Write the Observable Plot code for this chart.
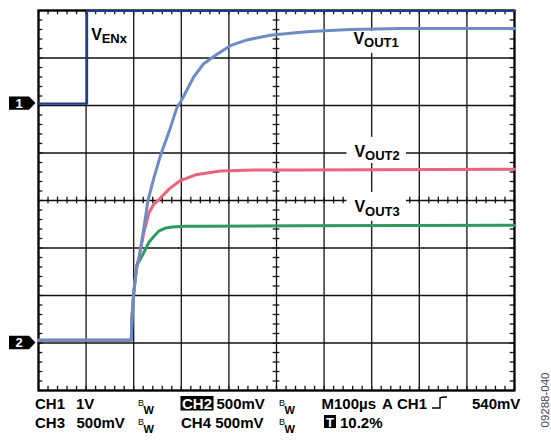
<!DOCTYPE html>
<html><head><meta charset="utf-8">
<script src="https://cdn.jsdelivr.net/npm/d3@7"></script>
<script src="https://cdn.jsdelivr.net/npm/@observablehq/plot@0.6"></script>
<style>
html,body{margin:0;padding:0;background:#fff;}
#chart{width:551px;height:442px;}
</style></head><body><div id="chart"></div>
<script>
// ---- scope settings (read from the on-screen readout) ----
const timePerDiv = 100;      // µs  (M100µs)
const triggerPct = 10.2;     // %   (T 10.2%)
const ch1VoltsPerDiv = 1;    // CH1 1V
const ch2VoltsPerDiv = 0.5;  // CH2/3/4 500mV
const ch1Ground = 2.04;      // divisions (marker "1")
const ch2Ground = -3;        // divisions (marker "2")
const channelMarkers = ["1", "2"];
const channelGrounds = [ch1Ground, ch2Ground];

// ---- traces: time (µs from trigger) and volts ----
const tEN = [-102, 0, 0, 898];
const vEN = [0, 0, 1.95, 1.95];

const tOut1 = [-102, 93, 94, 98, 102, 105, 109, 119, 128, 140, 154, 172, 189, 198, 224, 245, 273, 301, 336, 385, 427, 469, 553, 658, 898];
const vOut1 = [0.03, 0.03, 0.24, 0.52, 0.71, 0.82, 0.89, 1.20, 1.50, 1.73, 1.97, 2.22, 2.48, 2.55, 2.80, 2.94, 3.04, 3.13, 3.19, 3.24, 3.26, 3.28, 3.30, 3.31, 3.31];

const tOut2 = [-102, 93, 94, 98, 102, 105, 109, 119, 130, 140, 151, 172, 196, 228, 280, 350, 448, 898];
const vOut2 = [0.03, 0.03, 0.24, 0.52, 0.71, 0.82, 0.89, 1.16, 1.37, 1.46, 1.51, 1.62, 1.71, 1.77, 1.81, 1.82, 1.82, 1.83];

const tOut3 = [-102, 93, 94, 98, 102, 105, 116, 130, 140, 151, 165, 179, 207, 238, 448, 898];
const vOut3 = [0.03, 0.03, 0.24, 0.52, 0.71, 0.82, 0.92, 1.06, 1.12, 1.18, 1.21, 1.22, 1.23, 1.23, 1.235, 1.24];

// ---- labels ----
const traceLabels = ["V", "V", "V", "V"];
const traceSubs = ["ENx", "OUT1", "OUT2", "OUT3"];
const readout1 = ["CH1", "1V", "CH2", "500mV", "M100µs", "A", "CH1", "540mV"];
const readout2 = ["CH3", "500mV", "CH4 500mV", "T", "10.2%"];
const bwText = ["B", "W"];
const figureId = "09288-040";

const colors = {en: "#1f3c88", out1: "#6d8bc4", out2: "#e9647d", out3: "#2f9a5e"};
const FONT = "'Liberation Sans', Arial, Helvetica, sans-serif";

// ---- derived scale domain ----
const xMin = -triggerPct / 100 * 10 * timePerDiv;
const xMax = xMin + 10 * timePerDiv;
const xMid = xMin + 5 * timePerDiv;

const toRows = (t, v, ground, vpd) => t.map((ti, i) => ({t: ti, div: ground + v[i] / vpd}));
const rowsEN = toRows(tEN, vEN, ch1Ground, ch1VoltsPerDiv);
const rows1 = toRows(tOut1, vOut1, ch2Ground, ch2VoltsPerDiv);
const rows2 = toRows(tOut2, vOut2, ch2Ground, ch2VoltsPerDiv);
const rows3 = toRows(tOut3, vOut3, ch2Ground, ch2VoltsPerDiv);

const gridX = d3.range(0, 11).map(k => xMin + k * timePerDiv);
const gridY = d3.range(-4, 5);
const minorX = d3.range(0, 51).map(k => xMin + k * timePerDiv / 5);
const minorY = d3.range(-20, 21).map(k => k / 5);

const tickLenY = 0.07;   // in divisions
const tickLenX = 7;      // in µs
const borderY = 0.09, borderX = 9;

// label anchors (time, divisions) and white backing boxes
const labelPos = [
  {t: 8.6, div: 3.38},
  {t: 560, div: 3.295},
  {t: 562, div: 0.926},
  {t: 562, div: -0.246}
].map((d, i) => ({...d, main: traceLabels[i], sub: traceSubs[i]}));
const labelBoxes = [
  {t1: 545, t2: 669, d1: 3.10, d2: 3.56},
  {t1: 546, t2: 671, d1: 0.78, d2: 1.33},
  {t1: 546, t2: 671, d1: -0.44, d2: 0.17}
];

const gridStyle = {stroke: "#111", strokeWidth: 1.3};

const plot = Plot.plot({
  width: 551, height: 442,
  marginLeft: 38, marginRight: 37, marginTop: 10, marginBottom: 52,
  style: {fontFamily: FONT, background: "#fff"},
  x: {domain: [xMin, xMax], axis: null},
  y: {domain: [-4, 4], axis: null},
  marks: [
    Plot.ruleX(gridX, {x: d => d, ...gridStyle}),
    Plot.ruleY(gridY, {y: d => d, ...gridStyle}),
    // minor ticks on the centre cross
    Plot.ruleX(minorX, {x: d => d, y1: -tickLenY, y2: tickLenY, ...gridStyle}),
    Plot.ruleY(minorY, {y: d => d, x1: xMid - tickLenX, x2: xMid + tickLenX, ...gridStyle}),
    // minor ticks on the border
    Plot.ruleX(minorX, {x: d => d, y1: 4 - borderY, y2: 4, ...gridStyle}),
    Plot.ruleX(minorX, {x: d => d, y1: -4, y2: -4 + borderY, ...gridStyle}),
    Plot.ruleY(minorY, {y: d => d, x1: xMin, x2: xMin + borderX, ...gridStyle}),
    Plot.ruleY(minorY, {y: d => d, x1: xMax - borderX, x2: xMax, ...gridStyle}),
    Plot.frame({stroke: "#000", strokeWidth: 2.2}),
    Plot.rect(labelBoxes, {x1: "t1", x2: "t2", y1: "d1", y2: "d2", fill: "#fff"}),
    Plot.line(rows3, {x: "t", y: "div", stroke: colors.out3, strokeWidth: 3}),
    Plot.line(rows2, {x: "t", y: "div", stroke: colors.out2, strokeWidth: 3}),
    Plot.line(rows1, {x: "t", y: "div", stroke: colors.out1, strokeWidth: 3}),
    Plot.line(rowsEN, {x: "t", y: "div", stroke: colors.en, strokeWidth: 2.2}),
    Plot.text(labelPos, {x: "t", y: "div", text: "main", textAnchor: "start", lineAnchor: "bottom",
      fontSize: 16, fontWeight: "bold", fill: "#000", fontFamily: FONT}),
    Plot.text(labelPos, {x: "t", y: "div", text: "sub", textAnchor: "start", lineAnchor: "bottom",
      dx: 10.5, dy: 3.5, fontSize: 13, fontWeight: "bold", fill: "#000", fontFamily: FONT})
  ]
});

document.getElementById("chart").appendChild(plot);
const svg = d3.select(plot);

// channel ground markers
const yS = plot.scale("y");
channelMarkers.forEach((lab, i) => {
  const cy = yS.apply(channelGrounds[i]);
  svg.append("path").attr("d", `M9,${cy - 6.7}H29L35.5,${cy}L29,${cy + 6.7}H9Z`).attr("fill", "#000");
  svg.append("text").attr("x", 19).attr("y", cy + 4.8).attr("text-anchor", "middle")
    .attr("fill", "#fff").attr("font-family", FONT).attr("font-weight", "bold").attr("font-size", 13).text(lab);
});

function txt(x, y, s, o = {}) {
  return svg.append("text").attr("x", x).attr("y", y).attr("font-family", FONT)
    .attr("font-weight", o.weight || "bold").attr("font-size", o.size || 15)
    .attr("fill", o.fill || "#000").attr("text-anchor", o.anchor || "start").text(s);
}
function bw(x, yb) {
  txt(x, yb - 3, bwText[0], {size: 9, weight: "normal"});
  txt(x + 5.5, yb + 4.5, bwText[1], {size: 11});
}
const r1 = 409, r2 = 428;
txt(35, r1, readout1[0]);
txt(76, r1, readout1[1]);
bw(138, r1);
svg.append("rect").attr("x", 180.5).attr("y", r1 - 13).attr("width", 33).attr("height", 14.5).attr("fill", "#000");
txt(182, r1, readout1[2], {fill: "#fff"});
txt(216.5, r1, readout1[3]);
bw(279, r1);
txt(321.5, r1, readout1[4]);
txt(382, r1, readout1[5]);
txt(397, r1, readout1[6]);
svg.append("path").attr("d", `M432,${r1 - 1}H440V${r1 - 11}Q441,${r1 - 12} 447,${r1 - 12}`)
  .attr("fill", "none").attr("stroke", "#000").attr("stroke-width", 1.4);
txt(472, r1, readout1[7]);

txt(35, r2, readout2[0]);
txt(76.5, r2, readout2[1]);
bw(138, r2);
txt(181, r2, readout2[2]);
bw(279, r2);
svg.append("rect").attr("x", 324).attr("y", r2 - 13).attr("width", 12).attr("height", 13).attr("fill", "#000");
txt(330, r2 - 1.5, readout2[3], {fill: "#fff", size: 13, anchor: "middle"});
txt(340, r2, readout2[4]);

svg.append("text").attr("transform", "translate(549,400) rotate(-90)").attr("text-anchor", "middle")
  .attr("font-family", FONT).attr("font-size", 11.5).attr("fill", "#444").text(figureId);
</script></body></html>
